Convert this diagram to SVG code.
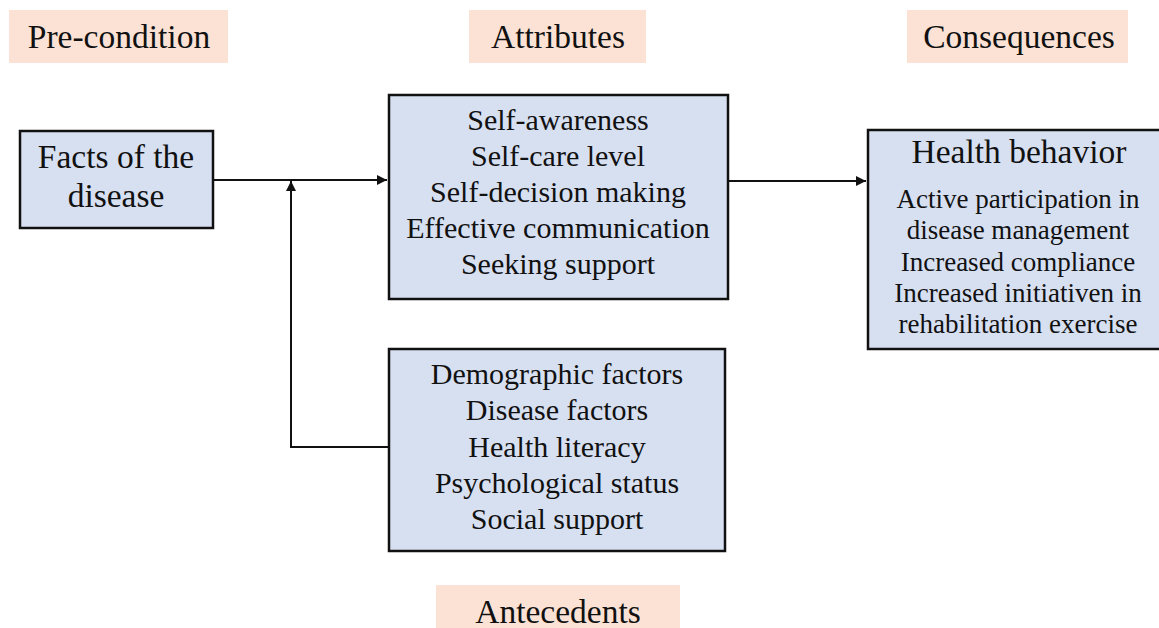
<svg xmlns="http://www.w3.org/2000/svg" width="1159" height="628" viewBox="0 0 1159 628" font-family="Liberation Serif, serif" text-anchor="middle">
<style>
.lbl{fill:#fbe2d5}
.box{fill:#d7e0f1;stroke:#111;stroke-width:2.5}
.tx{fill:#111}
.h{font-size:33.5px}
.t{font-size:30px}
.s{font-size:27px}
.c{fill:none;stroke:#111;stroke-width:2}
</style>
<defs>
<marker id="ah" viewBox="0 0 10 10" refX="10" refY="5" markerWidth="10" markerHeight="10" markerUnits="userSpaceOnUse" orient="auto">
<path d="M0,0 L10,5 L0,10 z" fill="#111"/>
</marker>
</defs>
<rect width="1159" height="628" fill="#fff"/>
<g id="label-precondition"><rect class="lbl" x="9" y="10" width="219" height="53"/><text class="tx h" x="119" y="48">Pre-condition</text></g>
<g id="label-attributes"><rect class="lbl" x="469" y="10" width="177" height="53"/><text class="tx h" x="558" y="48">Attributes</text></g>
<g id="label-consequences"><rect class="lbl" x="907" y="10" width="221" height="53"/><text class="tx h" x="1019" y="48">Consequences</text></g>
<g id="label-antecedents"><rect class="lbl" x="436" y="585" width="244" height="43"/><text class="tx h" x="558" y="623">Antecedents</text></g>
<g id="connectors">
<path class="c" d="M213,180 H387" marker-end="url(#ah)"/>
<path class="c" d="M389,447 H291 V181" marker-end="url(#ah)"/>
<path class="c" d="M728,181 H866" marker-end="url(#ah)"/>
</g>
<g id="node-facts"><rect class="box" x="20" y="131" width="193" height="97"/><text class="tx h" x="116" y="168">Facts of the</text><text class="tx h" x="116" y="207">disease</text></g>
<g id="node-attributes"><rect class="box" x="389" y="95" width="339" height="204"/>
<text class="tx t" x="558" y="130">Self-awareness</text>
<text class="tx t" x="558" y="166">Self-care level</text>
<text class="tx t" x="558" y="202">Self-decision making</text>
<text class="tx t" x="558" y="238">Effective communication</text>
<text class="tx t" x="558" y="274">Seeking support</text>
</g>
<g id="node-consequences"><rect class="box" x="868" y="130" width="295" height="219"/>
<text class="tx h" x="1019" y="163">Health behavior</text>
<text class="tx s" x="1018" y="208">Active participation in</text>
<text class="tx s" x="1018" y="239">disease management</text>
<text class="tx s" x="1018" y="271">Increased compliance</text>
<text class="tx s" x="1018" y="302">Increased initiativen in</text>
<text class="tx s" x="1018" y="333">rehabilitation exercise</text>
</g>
<g id="node-antecedents"><rect class="box" x="389" y="349" width="336" height="202"/>
<text class="tx t" x="557" y="384">Demographic factors</text>
<text class="tx t" x="557" y="420">Disease factors</text>
<text class="tx t" x="557" y="457">Health literacy</text>
<text class="tx t" x="557" y="493">Psychological status</text>
<text class="tx t" x="557" y="529">Social support</text>
</g>
</svg>
